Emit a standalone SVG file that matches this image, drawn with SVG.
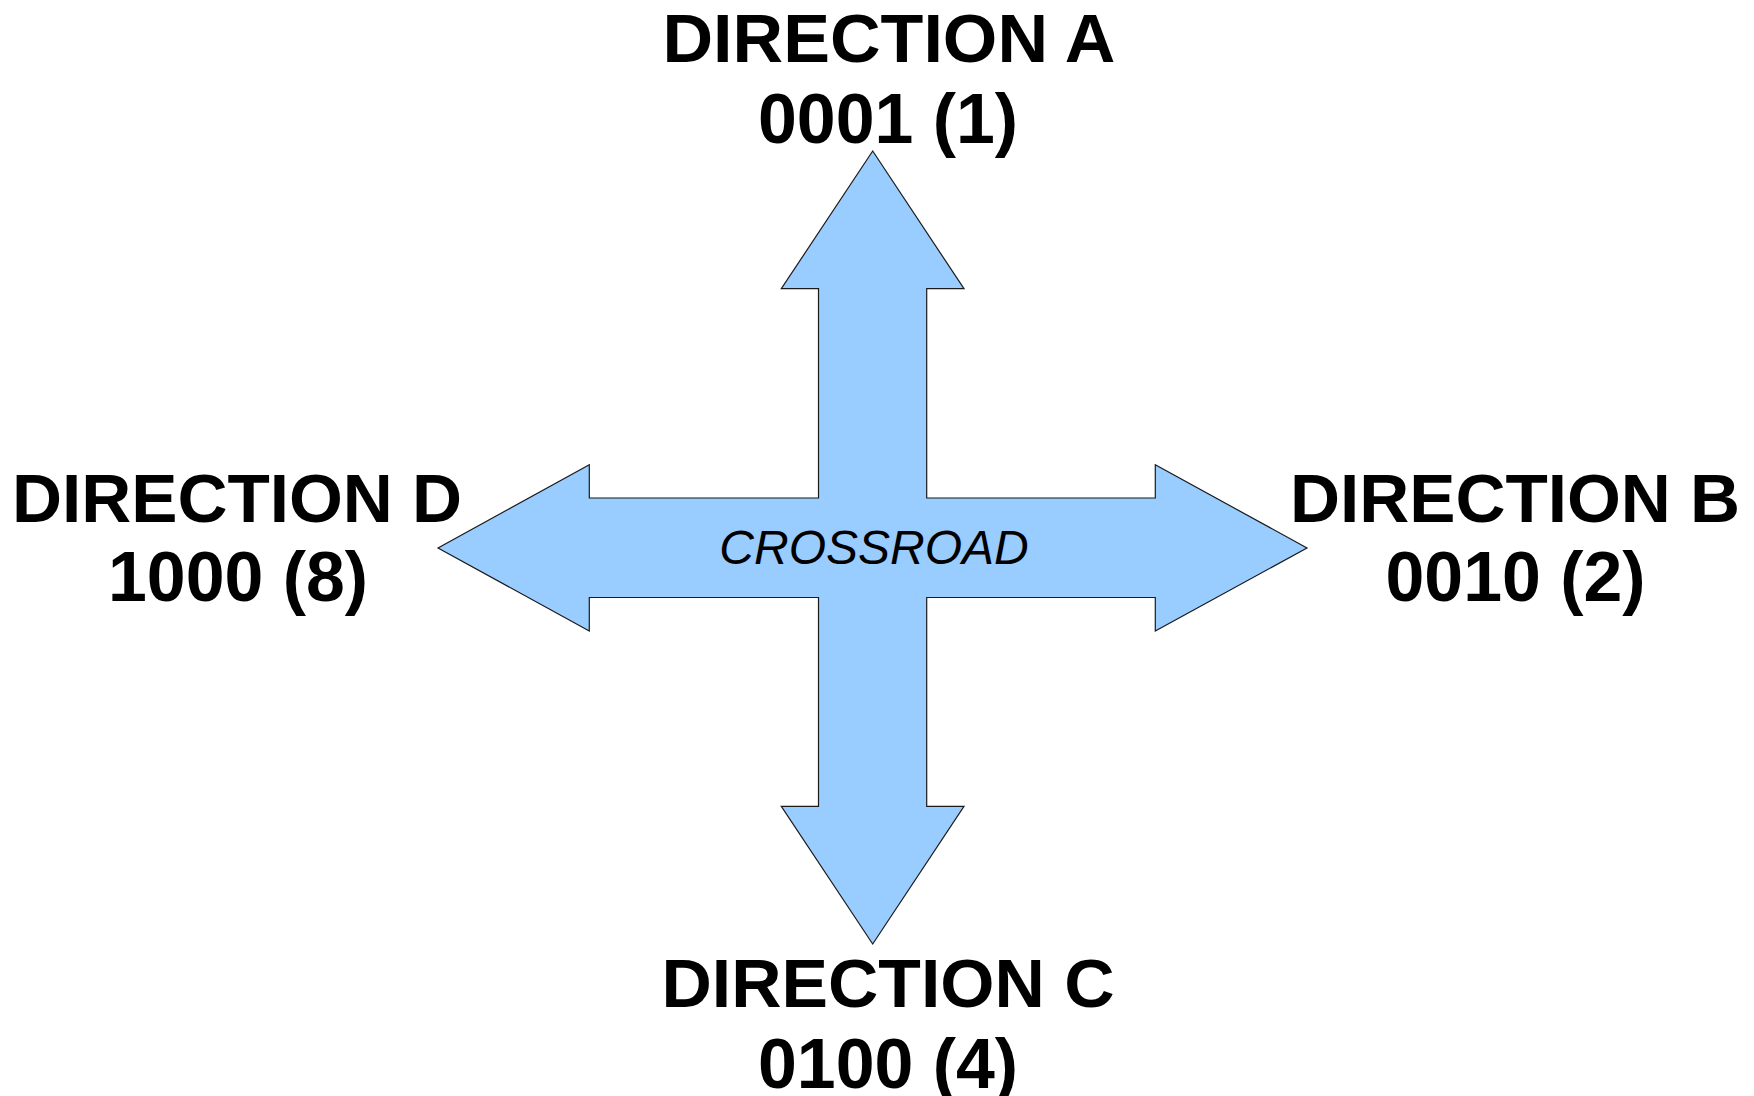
<svg xmlns="http://www.w3.org/2000/svg" width="1754" height="1096" viewBox="0 0 1754 1096">
  <style>
    .cross { fill: #99ccff; stroke: #1a1a1a; stroke-width: 1.2; stroke-linejoin: miter; }
    .name { font-family: "Liberation Sans", Arial, sans-serif; font-weight: bold; font-size: 68px; fill: #000; text-anchor: middle; }
    .code { font-family: "Liberation Sans", Arial, sans-serif; font-weight: bold; font-size: 71px; fill: #000; text-anchor: middle; }
    .center { font-family: "Liberation Sans", Arial, sans-serif; font-style: italic; font-size: 48px; fill: #000; text-anchor: middle; }
  </style>
  <rect width="1754" height="1096" fill="#ffffff"/>

  <!-- four-way arrow shape -->
  <g id="crossroad">
    <path class="cross" d="M872.7,151 L964,288.7 L926.7,288.7 L926.7,498 L1155.3,498 L1155.3,464.7 L1307,548 L1155.3,631 L1155.3,597.5 L926.7,597.5 L926.7,806.3 L964,806.3 L872.7,944 L781.3,806.3 L818.5,806.3 L818.5,597.5 L589.3,597.5 L589.3,631 L438,548 L589.3,464.7 L589.3,498 L818.5,498 L818.5,288.7 L781.3,288.7 Z"/>
    <text class="center" x="874" y="564">CROSSROAD</text>
  </g>

  <g id="connectors"></g>

  <g id="direction-a">
    <text class="name" x="889" y="62" textLength="453" lengthAdjust="spacingAndGlyphs">DIRECTION A</text>
    <text class="code" x="888" y="142.5" textLength="260" lengthAdjust="spacingAndGlyphs">0001 (1)</text>
  </g>

  <g id="direction-b">
    <text class="name" x="1515" y="522" textLength="450" lengthAdjust="spacingAndGlyphs">DIRECTION B</text>
    <text class="code" x="1515.5" y="600.5" textLength="260" lengthAdjust="spacingAndGlyphs">0010 (2)</text>
  </g>

  <g id="direction-c">
    <text class="name" x="888" y="1007" textLength="453" lengthAdjust="spacingAndGlyphs">DIRECTION C</text>
    <text class="code" x="888" y="1087.5" textLength="260" lengthAdjust="spacingAndGlyphs">0100 (4)</text>
  </g>

  <g id="direction-d">
    <text class="name" x="237" y="522" textLength="450" lengthAdjust="spacingAndGlyphs">DIRECTION D</text>
    <text class="code" x="238" y="600.5" textLength="260" lengthAdjust="spacingAndGlyphs">1000 (8)</text>
  </g>
</svg>
